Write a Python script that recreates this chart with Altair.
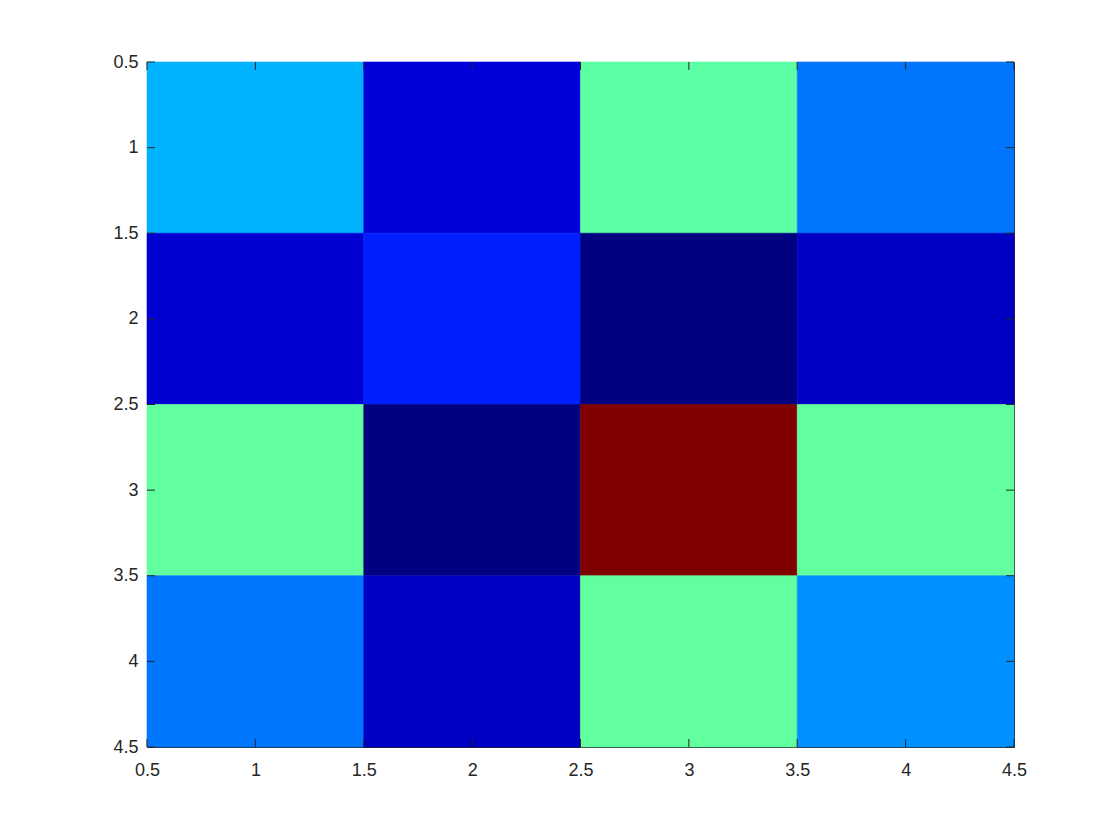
import altair as alt
import pandas as pd

rows = [1, 2, 3, 4]
cols = [1, 2, 3, 4]
values = [
    [0.30, 0.09, 0.465, 0.24],
    [0.08, 0.155, 0.00, 0.066],
    [0.47, 0.00, 1.00, 0.47],
    [0.24, 0.066, 0.47, 0.266],
]
tick_vals = [0.5, 1, 1.5, 2, 2.5, 3, 3.5, 4, 4.5]
# jet colormap sampled at t = 0, 1/8, ..., 1 (linear in RGB between)
jet_colors = ["#000080", "#0000ff", "#0080ff", "#00ffff", "#80ff80",
              "#ffff00", "#ff8000", "#ff0000", "#800000"]

recs = []
for i, r in enumerate(rows):
    for j, c in enumerate(cols):
        recs.append({"x": c - 0.5, "x2": c + 0.5, "y": r - 0.5, "y2": r + 0.5, "v": values[i][j]})
df = pd.DataFrame(recs)
ticks = pd.DataFrame({"t": tick_vals})

W, H = 867, 685
xs = alt.Scale(domain=[0.5, 4.5], nice=False, zero=False)
ys = alt.Scale(domain=[0.5, 4.5], nice=False, zero=False, reverse=True)
cs = alt.Scale(domain=[0, 1], range=jet_colors, interpolate="rgb")
lab = dict(ticks=False, tickSize=0, domain=False, grid=False, title=None, format="~g",
           values=tick_vals, labelOverlap=False, labelFlush=False)
xaxis = alt.Axis(labelPadding=14, **lab)
yaxis = alt.Axis(labelPadding=9, **lab)

cells = alt.Chart(df).mark_rect(strokeWidth=0.6).encode(
    x=alt.X("x:Q", scale=xs, axis=xaxis),
    x2="x2:Q",
    y=alt.Y("y:Q", scale=ys, axis=yaxis),
    y2="y2:Q",
    color=alt.Color("v:Q", scale=cs, legend=None),
    stroke=alt.Stroke("v:Q", scale=cs, legend=None),
)

tc = "#262626"
bt = alt.Chart(ticks).mark_rule(color=tc, strokeWidth=1).encode(
    x=alt.X("t:Q", scale=xs, axis=xaxis), y=alt.value(H), y2=alt.value(H - 8))
tt = alt.Chart(ticks).mark_rule(color=tc, strokeWidth=1).encode(
    x=alt.X("t:Q", scale=xs, axis=xaxis), y=alt.value(0), y2=alt.value(8))
lt = alt.Chart(ticks).mark_rule(color=tc, strokeWidth=1).encode(
    y=alt.Y("t:Q", scale=ys, axis=yaxis), x=alt.value(0), x2=alt.value(8))
rt = alt.Chart(ticks).mark_rule(color=tc, strokeWidth=1).encode(
    y=alt.Y("t:Q", scale=ys, axis=yaxis), x=alt.value(W), x2=alt.value(W - 8))

chart = alt.layer(cells, bt, tt, lt, rt).properties(
    width=W, height=H,
    autosize=alt.AutoSizeParams(type="none"),
    padding={"left": 139, "top": 54, "right": 90, "bottom": 80},
).configure_view(stroke=tc, strokeWidth=1).configure_axis(
    labelFont="Liberation Sans", labelFontSize=18, labelColor="#262626"
)

chart.save("out.html", embed_options={"renderer": "svg", "actions": False})
